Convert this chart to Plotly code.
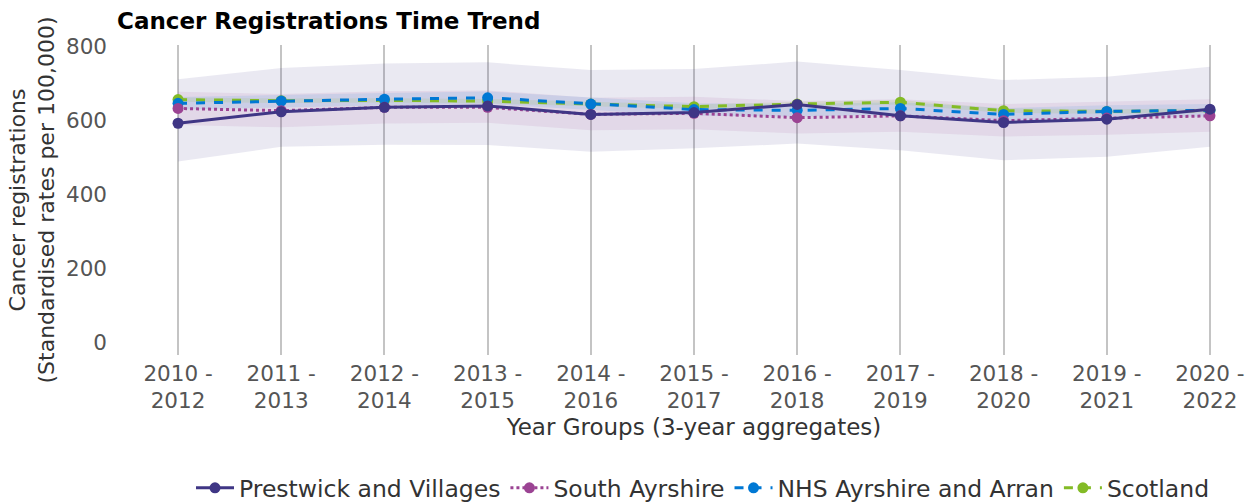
import plotly.graph_objects as go

categories = ["2010 - 2012", "2011 - 2013", "2012 - 2014", "2013 - 2015", "2014 - 2016",
              "2015 - 2017", "2016 - 2018", "2017 - 2019", "2018 - 2020", "2019 - 2021", "2020 - 2022"]
tick_labels = ["2010 -<br>2012", "2011 -<br>2013", "2012 -<br>2014", "2013 -<br>2015", "2014 -<br>2016",
               "2015 -<br>2017", "2016 -<br>2018", "2017 -<br>2019", "2018 -<br>2020", "2019 -<br>2021", "2020 -<br>2022"]

prestwick = [593, 624, 636, 640, 617, 622, 644, 613, 595, 604, 631]
prestwick_upper = [712, 743, 755, 758, 737, 740, 760, 737, 710, 719, 746]
prestwick_lower = [489, 529, 535, 534, 516, 525, 538, 520, 493, 502, 529]

south_ayrshire = [633, 627, 636, 636, 617, 620, 608, 613, 600, 607, 613]
south_ayrshire_upper = [678, 672, 680, 682, 662, 665, 653, 658, 645, 652, 658]
south_ayrshire_lower = [588, 582, 592, 594, 574, 577, 565, 570, 557, 562, 570]

nhs = [647, 653, 658, 662, 645, 630, 628, 633, 617, 625, 628]
nhs_upper = [664, 670, 675, 679, 662, 647, 645, 650, 634, 642, 645]
nhs_lower = [630, 636, 641, 645, 628, 613, 611, 616, 600, 608, 611]

scotland = [657, 654, 655, 653, 645, 638, 645, 650, 627, 625, 627]
scotland_upper = [663, 660, 661, 659, 651, 644, 651, 656, 633, 631, 633]
scotland_lower = [651, 648, 649, 647, 639, 632, 639, 644, 621, 619, 621]

series = [
    ("Prestwick and Villages", prestwick, prestwick_upper, prestwick_lower, "#3F3685", "solid", "rgba(63,54,133,0.11)", 1),
    ("South Ayrshire", south_ayrshire, south_ayrshire_upper, south_ayrshire_lower, "#9B4393", "dot", "rgba(155,67,147,0.10)", 2),
    ("NHS Ayrshire and Arran", nhs, nhs_upper, nhs_lower, "#0078D4", "dash", "rgba(0,120,212,0.10)", 3),
    ("Scotland", scotland, scotland_upper, scotland_lower, "#83BB26", "dash", "rgba(131,187,38,0.12)", 4),
]

W = 1280

fig = go.Figure()

for name, vals, up, lo, col, dash, fill, rank in series:
    fig.add_trace(go.Scatter(
        x=categories + categories[::-1], y=up + lo[::-1],
        fill="toself", fillcolor=fill, line=dict(width=0),
        mode="lines", showlegend=False, hoverinfo="skip"))

for name, vals, up, lo, col, dash, fill, rank in reversed(series):
    fig.add_trace(go.Scatter(
        x=categories, y=vals, name=name, mode="lines+markers",
        line=dict(color=col, width=3, dash=dash),
        marker=dict(color=col, size=11),
        legendrank=rank))

fig.update_layout(
    width=W, height=504,
    paper_bgcolor="white", plot_bgcolor="white",
    font=dict(family="DejaVu Sans", size=21.5, color="#555555"),
    margin=dict(l=112, r=4, t=45, b=149, autoexpand=False),
    title=dict(text="<b>Cancer Registrations Time Trend</b>", x=117/W, xref="container",
               xanchor="left", y=1 - 21/504, yanchor="middle",
               font=dict(family="DejaVu Sans", size=23, color="black")),
    xaxis=dict(type="category", categoryorder="array", categoryarray=categories,
               tickvals=categories, ticktext=tick_labels, automargin=False,
               range=[-0.64, 10.64], showgrid=True, gridcolor="#C4C4C4", gridwidth=2,
               zeroline=False, showline=False, ticks="", ticklabelstandoff=3,
               title=dict(text="Year Groups (3-year aggregates)", standoff=6,
                          font=dict(color="#333333", size=23))),
    yaxis=dict(range=[-35, 805], tickvals=[0, 200, 400, 600, 800], showgrid=False,
               zeroline=False, showline=False, ticks="", automargin=False,
               ticklabelstandoff=4,
               title=dict(text="Cancer registrations<br>(Standardised rates per 100,000)",
                          standoff=5, font=dict(color="#333333", size=22))),
    legend=dict(orientation="h", x=703/W, xref="container", xanchor="center",
                y=1 - 488/504, yref="container", yanchor="middle", itemwidth=38,
                bgcolor="rgba(0,0,0,0)",
                font=dict(color="#333333", size=23.5), traceorder="normal"),
    showlegend=True,
)

fig.write_html(
    "out.html",
    config={"displayModeBar": False},
    post_script="document.documentElement.style.overflow='hidden';"
                "document.body.style.overflow='hidden';"
                "document.body.style.margin='0';document.body.style.padding='0';",
)
